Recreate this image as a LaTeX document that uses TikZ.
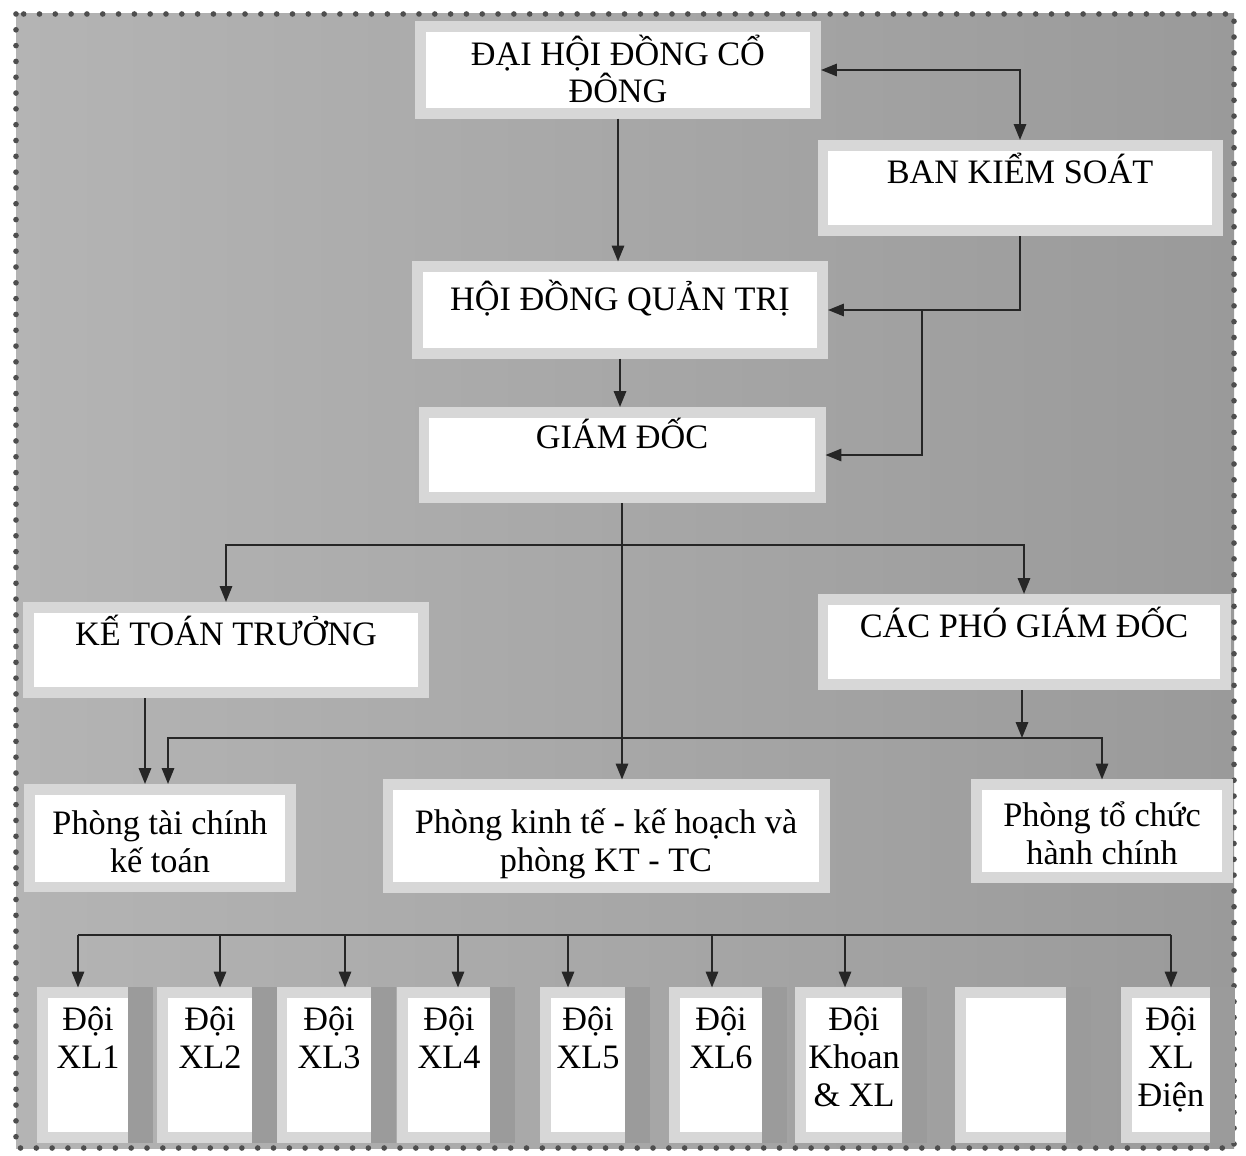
\documentclass[tikz,border=0pt]{standalone}
\usepackage{fontspec}
\setmainfont{Liberation Serif}
\usetikzlibrary{arrows.meta,positioning}
\definecolor{PanelLight}{HTML}{B4B4B4}
\definecolor{PanelDark}{HTML}{9A9A9A}
\definecolor{BevelGray}{HTML}{D7D7D7}
\definecolor{SideGray}{HTML}{9B9B9B}
\definecolor{LineDark}{HTML}{262626}
\definecolor{DotGray}{HTML}{4E4E4E}

\begin{document}
\begin{tikzpicture}[
  x=0.02cm, y=-0.02cm,
  font=\fontsize{19.5}{21.5}\selectfont,
  >={Triangle[length=9pt,width=7pt]},
  % white box in a light bevel frame (anchors sit on the frame)
  unit/.style={fill=white, preaction={draw=BevelGray, line width=12pt},
               inner sep=0pt, outer sep=6pt, align=center},
  % team boxes (bottom row), two or three lines
  team/.style={unit, text height=1.40cm, text depth=1.28cm},
  teamiii/.style={unit, text height=2.16cm, text depth=0.52cm},
  % arrows and bus lines
  arr/.style={->, draw=LineDark, line width=1.1pt},
  bus/.style={draw=LineDark, line width=1.1pt},
]

%% ── Panel and dotted frame ───────────────────────────────────────────────
\fill[white] (0,0) rectangle (1246,1155);
\shade[left color=PanelLight, right color=PanelDark] (16,14) rectangle (1234,1148);
\draw[DotGray, line width=3.2pt, line cap=round, dash pattern=on 0pt off 9pt]
  (16,14) rectangle (1234,1148);

%% ── Top management ───────────────────────────────────────────────────────
\node[unit, minimum width=7.70cm, text height=1.42cm, text depth=0.10cm]
  (dhdcd) at (618,70) {ĐẠI HỘI ĐỒNG CỔ\\ĐÔNG};
\node[unit, minimum width=7.68cm, text height=0.66cm, text depth=0.84cm]
  (bks) at (1020,188) {BAN KIỂM SOÁT};
\node[unit, minimum width=7.90cm, text height=0.76cm, text depth=0.76cm]
  (hdqt) at (620,310) {HỘI ĐỒNG QUẢN TRỊ};
\node[unit, minimum width=7.72cm, text height=0.62cm, text depth=0.88cm]
  (gd) at (622,455) {GIÁM ĐỐC};

%% ── Second level ─────────────────────────────────────────────────────────
\node[unit, minimum width=7.70cm, text height=0.66cm, text depth=0.84cm]
  (ktt) at (226,650) {KẾ TOÁN TRƯỞNG};
\node[unit, minimum width=7.84cm, text height=0.66cm, text depth=0.84cm]
  (cpgd) at (1024,642) {CÁC PHÓ GIÁM ĐỐC};

%% ── Departments ──────────────────────────────────────────────────────────
\node[unit, minimum width=5.02cm, text height=1.56cm, text depth=0.18cm]
  (ptckt) at (160,838) {Phòng tài chính\\kế toán};
\node[unit, minimum width=8.52cm, text height=1.62cm, text depth=0.22cm]
  (pkt) at (606,836) {Phòng kinh tế - kế hoạch và\\phòng KT - TC};
\node[unit, minimum width=4.80cm, text height=1.48cm, text depth=0.16cm]
  (ptchc) at (1102,831) {Phòng tổ chức\\hành chính};

%% ── Teams ────────────────────────────────────────────────────────────────
\node[team, minimum width=1.60cm]    (d1) at (88,1065)   {Đội\\XL1};
\node[team, minimum width=1.68cm]    (d2) at (210,1065)  {Đội\\XL2};
\node[team, minimum width=1.70cm]    (d3) at (329,1065)  {Đội\\XL3};
\node[team, minimum width=1.64cm]    (d4) at (449,1065)  {Đội\\XL4};
\node[team, minimum width=1.48cm]    (d5) at (588,1065)  {Đội\\XL5};
\node[team, minimum width=1.64cm]    (d6) at (721,1065)  {Đội\\XL6};
\node[teamiii, minimum width=1.92cm] (d7) at (854,1065)  {Đội\\Khoan\\\& XL};
\node[team, minimum width=2.00cm]    (d8) at (1016,1065) {};
\node[teamiii, minimum width=1.56cm] (d9) at (1171,1065) {Đội\\XL\\Điện};

%% dark bevel side on the right of each team box
\foreach \n in {1,...,9}
  \fill[SideGray] ([xshift=-6pt]d\n.north east) rectangle ([xshift=8pt]d\n.south east);

%% ── Bus points ───────────────────────────────────────────────────────────
\coordinate (bkx) at (922,0);
\coordinate (kx1) at (145,0);
\coordinate (kx2) at (168,0);
\coordinate (gdbus) at (622,545);
\coordinate (cpbus) at (1022,738);
\coordinate (dbus) at (0,935);

%% ── Connectors ───────────────────────────────────────────────────────────
\draw[arr] (dhdcd.south) -- (dhdcd.south |- hdqt.north);
\draw[arr, <->] (dhdcd.east) -| (bks.north);
\draw[arr] (bks.south) |- (hdqt.east);
\draw[arr] (hdqt.east -| bkx) |- (gd.east);
\draw[arr] (hdqt.south) -- (hdqt.south |- gd.north);
\draw[arr] (gd.south) -- (gd.south |- pkt.north);
\draw[arr, <->] (ktt.north) |- (gdbus) -| (cpgd.north);
\draw[arr] (ktt.south -| kx1) -- (ptckt.north -| kx1);
\draw[arr] (cpbus |- cpgd.south) -- (cpbus);
\draw[arr, <->] (ptckt.north -| kx2) |- (cpbus) -| (ptchc.north);

\draw[bus] (78,0 |- dbus) -- (d9.north |- dbus);
\foreach \n/\ax in {1/78,2/220,3/345,4/458,5/568,6/712,7/845,9/1171}
  \draw[arr] (\ax,0 |- dbus) -- (d\n.north -| \ax,0);

\end{tikzpicture}
\end{document}
